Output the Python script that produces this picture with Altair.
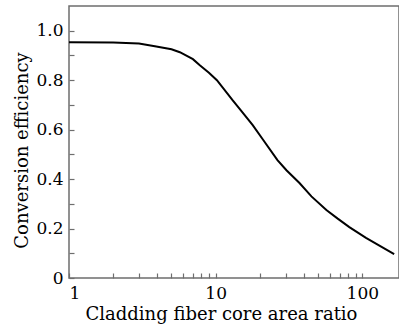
import altair as alt
import pandas as pd

ratio = [1, 2, 3, 3.85, 5, 5.7, 7, 7.8, 9, 10.2, 13, 15, 17.9, 21, 26.4, 30.4, 37.3, 45, 56.9, 68, 81.6, 106, 130, 165]
efficiency = [0.953, 0.952, 0.948, 0.937, 0.925, 0.913, 0.885, 0.86, 0.83, 0.80, 0.72, 0.675, 0.618, 0.56, 0.477, 0.436, 0.384, 0.33, 0.275, 0.24, 0.206, 0.162, 0.132, 0.097]

x_tick_values = [1, 2, 3, 4, 5, 6, 7, 8, 9, 10, 20, 30, 40, 50, 60, 70, 80, 90, 100]
y_tick_values = [0, 0.1, 0.2, 0.3, 0.4, 0.5, 0.6, 0.7, 0.8, 0.9, 1.0]

df = pd.DataFrame({"ratio": ratio, "eff": efficiency})

FONT = "DejaVu Serif"

chart = alt.Chart(df).mark_line(color="black", strokeWidth=2, clip=True).encode(
    x=alt.X("ratio:Q",
            scale=alt.Scale(type="log", domain=[1, 178], nice=False),
            axis=alt.Axis(values=x_tick_values, domain=False, grid=False,
                          offset=-5, tickSize=5, tickColor="#6e6e6e", tickWidth=1.2,
                          labelExpr="(datum.value==1||datum.value==10||datum.value==100) ? format(datum.value,'d') : ''",
                          labelPadding=7, labelFont=FONT, labelFontSize=17, labelColor="black",
                          title="Cladding fiber core area ratio", titleFont=FONT, titleFontSize=18,
                          titleFontWeight="normal", titleColor="black", titlePadding=4,
                          titleX=152)),
    y=alt.Y("eff:Q",
            scale=alt.Scale(domain=[0, 1.1], nice=False),
            axis=alt.Axis(values=y_tick_values, domain=False, grid=False,
                          offset=-5, tickSize=5, tickColor="#6e6e6e", tickWidth=1.2,
                          labelExpr="datum.value==0 ? '0' : (round(datum.value*10)%2==0 ? format(datum.value,'.1f') : '')",
                          labelPadding=6, labelFont=FONT, labelFontSize=17, labelColor="black",
                          title="Conversion efficiency", titleFont=FONT, titleFontSize=18,
                          titleFontWeight="normal", titleColor="black", titlePadding=4,
                          titleY=144)),
).properties(
    width=330, height=272,
    autosize=alt.AutoSizeParams(type="none"),
    padding={"left": 69, "top": 6, "right": 0, "bottom": 53},
).configure_view(stroke="#6e6e6e", strokeWidth=1.5)

chart.save("out.html", embed_options={"renderer": "svg", "actions": False})
